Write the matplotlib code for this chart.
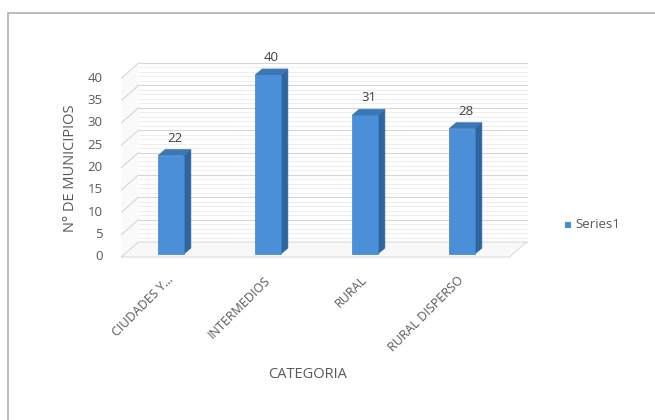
import matplotlib
matplotlib.use("Agg")
import matplotlib.pyplot as plt
import matplotlib.transforms as mtransforms
from matplotlib.patches import Polygon, Rectangle

categories = ["CIUDADES Y…", "INTERMEDIOS", "RURAL", "RURAL DISPERSO"]
values = [22, 40, 31, 28]
series_name = "Series1"
y_ticks = [0, 5, 10, 15, 20, 25, 30, 35, 40]
x_title = "CATEGORIA"
y_title = "N° DE MUNICIPIOS"

plt.rcParams['font.family'] = ['Open Sans', 'DejaVu Sans']

W, H = 655, 420
fig = plt.figure(figsize=(W / 100, H / 100), dpi=100)
fig.patch.set_facecolor("white")

ax = fig.add_axes([121.5 / W, 163 / H, 388 / W, 179 / H])
ax.set_xlim(-0.5, len(categories) - 0.5)
ax.set_ylim(0, 40)
ax.axis("off")

ident = mtransforms.IdentityTransform()
WALL_DX, WALL_DY = 17, 15      # depth of the back wall in px
BAR_DX, BAR_DY = 7, 6          # depth of each bar in px
BAR_OFF_X, BAR_OFF_Y = 1, 3    # bars sit slightly behind the front plane

grid_major = "#d6d6d6"
grid_minor = "#ededed"


def disp(x, y, dx=0, dy=0):
    px, py = ax.transData.transform((x, y))
    return (px + dx, py + dy)


x0, x1 = ax.get_xlim()
# minor lines on back wall
for v in range(0, 41):
    if v % 5 == 0:
        continue
    a = disp(x0, v, WALL_DX, WALL_DY)
    b = disp(x1, v, WALL_DX, WALL_DY)
    ax.add_line(plt.Line2D([a[0], b[0]], [a[1], b[1]], transform=ident,
                           color=grid_minor, lw=0.6, clip_on=False, zorder=1))
# major grid: back wall + side wall
for v in y_ticks:
    a = disp(x0, v, WALL_DX, WALL_DY)
    b = disp(x1, v, WALL_DX, WALL_DY)
    f = disp(x0, v)
    ax.add_line(plt.Line2D([a[0], b[0]], [a[1], b[1]], transform=ident,
                           color=grid_major, lw=0.8, clip_on=False, zorder=1))
    ax.add_line(plt.Line2D([f[0], a[0]], [f[1], a[1]], transform=ident,
                           color=grid_major, lw=0.8, clip_on=False, zorder=1))

# floor
fl = [disp(x0, 0), disp(x1, 0), disp(x1, 0, WALL_DX, WALL_DY), disp(x0, 0, WALL_DX, WALL_DY)]
ax.add_patch(Polygon(fl, closed=True, transform=ident, facecolor="#f8f8f8",
                     edgecolor="#dcdcdc", lw=0.8, clip_on=False, zorder=1.5))
# left wall
lw_pts = [disp(x0, 0), disp(x0, 0, WALL_DX, WALL_DY), disp(x0, 40, WALL_DX, WALL_DY), disp(x0, 40)]
ax.add_patch(Polygon(lw_pts, closed=True, transform=ident, facecolor="#fafafa",
                     edgecolor="none", clip_on=False, zorder=0.5))

# bars (front faces)
bar_w = 0.265
bar_tr = ax.transData + mtransforms.ScaledTranslation(BAR_OFF_X / 100, BAR_OFF_Y / 100, fig.dpi_scale_trans)
xs = list(range(len(categories)))
bars = ax.bar(xs, values, width=bar_w, color="#4a8fd8", edgecolor="#3f82c9",
              linewidth=0.5, transform=bar_tr, zorder=3, clip_on=False)

for rect in bars:
    xl = rect.get_x()
    xr = xl + rect.get_width()
    top = rect.get_height()
    ox, oy = BAR_OFF_X, BAR_OFF_Y
    # side face
    side = [disp(xr, 0, ox, oy), disp(xr, 0, ox + BAR_DX, oy + BAR_DY),
            disp(xr, top, ox + BAR_DX, oy + BAR_DY), disp(xr, top, ox, oy)]
    ax.add_patch(Polygon(side, closed=True, transform=ident, facecolor="#2d659f",
                         edgecolor="#2d659f", lw=0.5, clip_on=False, zorder=2.9))
    # top face
    topf = [disp(xl, top, ox, oy), disp(xr, top, ox, oy),
            disp(xr, top, ox + BAR_DX, oy + BAR_DY), disp(xl, top, ox + BAR_DX, oy + BAR_DY)]
    ax.add_patch(Polygon(topf, closed=True, transform=ident, facecolor="#3a77b6",
                         edgecolor="#3a77b6", lw=0.5, clip_on=False, zorder=2.9))
    # value label
    cx, cy = disp(xl + rect.get_width() / 2, top, ox + BAR_DX / 2, oy + BAR_DY)
    ax.text(cx, cy + 5, f"{int(top)}", transform=ident, ha="center", va="bottom",
            fontsize=9.5, color="#404040", clip_on=False, zorder=5)

text_color = "#595959"
# y tick labels
for v in y_ticks:
    px, py = disp(x0, v)
    ax.text(px - 19, py, str(v), transform=ident, ha="right", va="center",
            fontsize=9.5, color=text_color, clip_on=False)

# x tick labels
for i, lab in enumerate(categories):
    px, py = disp(i, 0)
    ax.text(px + 1, py - 21, lab, transform=ident, ha="right", va="center",
            rotation=45, rotation_mode="anchor", fontsize=9, color=text_color,
            clip_on=False)

# axis titles
fig.text(70 / W, 1 - 168 / H, y_title, rotation=90, ha="center", va="center",
         fontsize=10.5, color=text_color)
fig.text(308 / W, 1 - 375 / H, x_title, ha="center", va="center",
         fontsize=10.5, color=text_color)

# legend
fig.patches.append(Rectangle((565 / W, 1 - 228 / H), 6 / W, 6 / H,
                             transform=fig.transFigure, facecolor="#4a8fd8",
                             edgecolor="none"))
fig.text(575 / W, 1 - 225 / H, series_name, ha="left", va="center",
         fontsize=9.5, color=text_color)

# outer border
fig.patches.append(Rectangle((8 / W, -0.05), 1.1, 1 - 13 / H + 0.05,
                             transform=fig.transFigure, facecolor="none",
                             edgecolor="#b0b0b0", lw=1.2))

fig.savefig("out.png", dpi=100)
